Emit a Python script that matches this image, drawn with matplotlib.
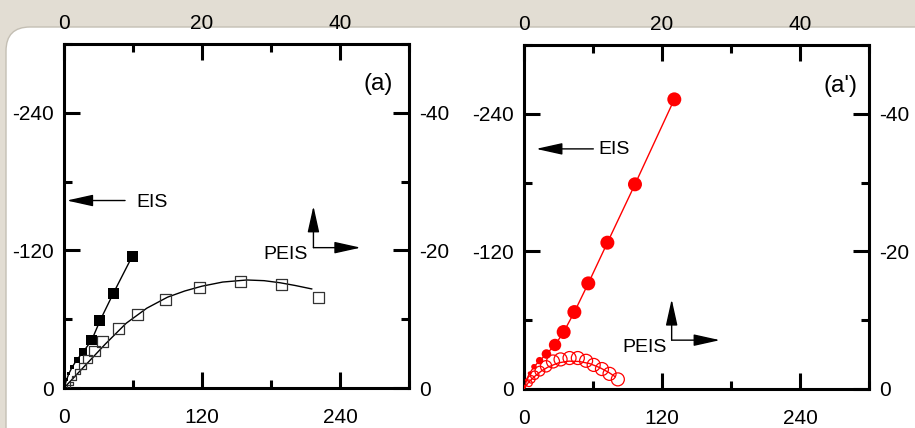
import numpy as np
import matplotlib
matplotlib.use('Agg')
import matplotlib.pyplot as plt
from matplotlib.patches import FancyBboxPatch
from matplotlib.ticker import MultipleLocator
from matplotlib.transforms import IdentityTransform

plt.rcParams['font.family'] = ['Liberation Sans', 'DejaVu Sans']
plt.rcParams['axes.unicode_minus'] = False

# panel (a): EIS on bottom/left scale, PEIS on top/right scale
eis_a_x = [59.4, 42.9, 31.3, 24.1, 16.8, 11.0, 7.0, 4.2, 2.2, 0.8]
eis_a_y = [-115, -82.6, -58.7, -41.8, -31.6, -24.4, -18.0, -12.5, -7.0, -2.5]
peis_a_x = [36.9, 31.5, 25.6, 19.6, 14.7, 10.7, 7.9, 5.6, 4.4, 3.4, 2.7, 2.0, 1.5, 1.05, 0.7]
peis_a_y = [-13.2, -15.0, -15.45, -14.6, -12.9, -10.65, -8.6, -6.8, -5.4, -4.2, -3.2, -2.4, -1.5, -0.7, -0.2]
fit_a_x = [0, 3, 6, 9, 12, 15, 17.5, 20, 23, 26.5, 29, 31.3, 33.5, 35.9]
fit_a_y = [0, -3.2, -6.4, -9.4, -11.6, -13.2, -14.1, -14.8, -15.4, -15.7, -15.6, -15.3, -14.9, -14.4]

# panel (a')
eis_b_x = [130.7, 96.5, 72.5, 55.9, 43.8, 34.5, 27.0, 19.5, 13.6, 8.7, 4.9, 2.0, 0.6]
eis_b_y = [-252.6, -178.5, -127.6, -92.1, -67.1, -49.7, -38.4, -30.5, -24.7, -19.4, -13.7, -7.8, -2.5]
peis_b_x = [13.6, 12.4, 11.3, 10.1, 9.0, 7.8, 6.6, 5.3, 4.2, 3.2, 2.3, 1.55, 1.06, 0.72]
peis_b_y = [-1.4, -2.2, -2.9, -3.5, -4.1, -4.5, -4.5, -4.3, -4.0, -3.3, -2.6, -2.0, -1.4, -0.83]
fit_b_x = [0, 0.6, 1.5, 2.5, 3.5, 5.0, 6.5, 8.0, 9.5, 11.0, 12.3, 13.2]
fit_b_y = [0, -0.9, -1.8, -2.6, -3.2, -3.8, -4.05, -4.0, -3.7, -3.1, -2.4, -1.8]

fig = plt.figure(figsize=(9.15, 4.28), dpi=100)
fig.patch.set_facecolor('#e2ddd3')
panel = FancyBboxPatch((6, -60), 1000, 428 - 27 + 60, boxstyle='round,pad=0,rounding_size=24',
                       transform=IdentityTransform(), fc='white', ec='#c4bfb4', lw=1, zorder=-1)
fig.add_artist(panel)


def make_panel(rect):
    ax = fig.add_axes(rect)
    ax.set_xlim(0, 300)
    ax.set_ylim(0, -300)
    for a in (ax.xaxis, ax.yaxis):
        a.set_major_locator(MultipleLocator(120))
        a.set_minor_locator(MultipleLocator(60))
    ax.tick_params(which='both', direction='in', width=2.2, top=False, right=False, labelsize=15)
    ax.tick_params(which='major', length=11.5)
    ax.tick_params(which='minor', length=5.8)
    ax.tick_params(axis='x', pad=14.5)
    ax.tick_params(axis='y', pad=7.5)
    for s in ax.spines.values():
        s.set_linewidth(2.2)

    ax2 = fig.add_axes(rect, frameon=False)
    ax2.set_xlim(0, 50)
    ax2.set_ylim(0, -50)
    for a in (ax2.xaxis, ax2.yaxis):
        a.set_major_locator(MultipleLocator(20))
        a.set_minor_locator(MultipleLocator(10))
    ax2.xaxis.tick_top()
    ax2.yaxis.tick_right()
    ax2.tick_params(which='both', direction='in', width=2.2, labelsize=15,
                    top=True, right=True, bottom=False, left=False,
                    labeltop=True, labelright=True, labelbottom=False, labelleft=False)
    ax2.tick_params(which='major', length=11.5)
    ax2.tick_params(which='minor', length=5.8)
    ax2.tick_params(axis='x', pad=8)
    ax2.tick_params(axis='y', pad=7)
    return ax, ax2


def sizes(ax, x, y, k, base, lo, hi):
    # marker diameter grows with distance from the origin (as in the original)
    p = ax.transData.transform(np.column_stack([x, y]))
    o = ax.transData.transform((0, 0))
    r = np.hypot(*(p - o).T)
    d = np.clip(base + k * r, lo, hi)
    return (d * 72 / fig.dpi) ** 2


def arrow(ax, tail, head):
    ax.annotate('', xy=head, xytext=tail, xycoords='axes fraction', textcoords='axes fraction',
                arrowprops=dict(arrowstyle='-|>,head_length=1.35,head_width=0.3', mutation_scale=12,
                                color='k', lw=1, shrinkA=0, shrinkB=0))


# (a)
ax, ax2 = make_panel([64 / 915, 40 / 428, 345 / 915, 344 / 428])
ax.plot(eis_a_x, eis_a_y, color='k', lw=1.0, zorder=2)
ax.scatter(eis_a_x, eis_a_y, s=sizes(ax, eis_a_x, eis_a_y, 0.19, 0, 3, 11), marker='s',
           color='k', zorder=3, linewidths=0)
ax2.plot(fit_a_x, fit_a_y, color='k', lw=1.0, zorder=2)
ax2.scatter(peis_a_x, peis_a_y, s=sizes(ax2, peis_a_x, peis_a_y, 0.2, 1, 3, 11), marker='s',
            facecolors='none', edgecolors='#333333', linewidths=0.9, zorder=4)
ax.text(0.91, 0.884, '(a)', transform=ax.transAxes, fontsize=17.5, ha='center', va='center')
ax.text(0.209, 0.538, 'EIS', transform=ax.transAxes, fontsize=14, ha='left', va='center')
arrow(ax, (0.177, 0.545), (0.008, 0.545))
ax.text(0.577, 0.388, 'PEIS', transform=ax.transAxes, fontsize=14, ha='left', va='center')
arrow(ax, (0.723, 0.408), (0.723, 0.529))
arrow(ax, (0.723, 0.408), (0.860, 0.408))

# (a')
bx, bx2 = make_panel([524 / 915, 39 / 428, 345 / 915, 344 / 428])
bx.plot(eis_b_x, eis_b_y, color='#ff0000', lw=1.0, zorder=2)
bx.scatter(eis_b_x, eis_b_y, s=sizes(bx, eis_b_x, eis_b_y, 0.23, 0, 3, 14), marker='o',
           color='#ff0000', zorder=3, linewidths=0)
bx2.plot(fit_b_x, fit_b_y, color='#ff0000', lw=1.0, zorder=2)
bx2.scatter(peis_b_x, peis_b_y, s=sizes(bx2, peis_b_x, peis_b_y, 0.2, 5, 5, 13), marker='o',
            facecolors='none', edgecolors='#ff0000', linewidths=0.9, zorder=4)
bx.text(0.916, 0.881, "(a')", transform=bx.transAxes, fontsize=17.5, ha='center', va='center')
bx.text(0.217, 0.695, 'EIS', transform=bx.transAxes, fontsize=14, ha='left', va='center')
arrow(bx, (0.201, 0.698), (0.035, 0.698))
bx.text(0.284, 0.121, 'PEIS', transform=bx.transAxes, fontsize=14, ha='left', va='center')
arrow(bx, (0.428, 0.142), (0.428, 0.261))
arrow(bx, (0.428, 0.142), (0.568, 0.142))

fig.savefig('out.png', dpi=100, facecolor=fig.get_facecolor())
